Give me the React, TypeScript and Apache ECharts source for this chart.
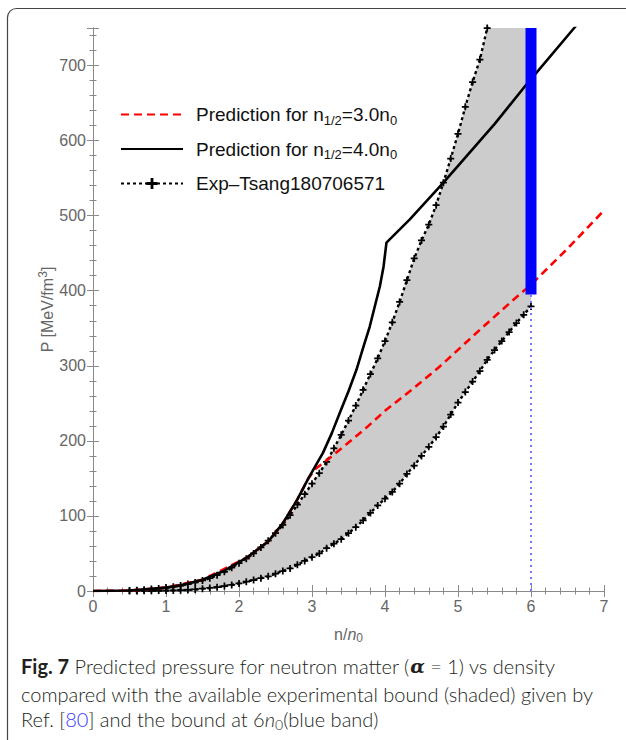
import React, { useEffect, useRef } from "react";
import * as echarts from "echarts";

// ---- data ----
const upperN = [0.5,0.6,0.7,0.8,0.9,1.0,1.1,1.2,1.3,1.4,1.5,1.6,1.7,1.8,1.9,2.0,2.1,2.2,2.3,2.4,2.5,2.6,2.7,2.8,2.9,3.0,3.1,3.2,3.3,3.4,3.5,3.6,3.7,3.8,3.9,4.0,4.1,4.2,4.3,4.4,4.5,4.6,4.7,4.8,4.9,5.0,5.1,5.2,5.3,5.4,5.5];
const upperP = [0.7,1.1,1.7,2.5,3.4,4.5,5.8,7.3,9.2,11.4,14,17,21,25.5,31,37,43,50,58,67,77,88,101,115,129,143,157,172,190,208,227,247,268,289,310,333,358,385,414,443,467,488,514,544,576,609,645,678,708,750,790];
const lowerN = [0.5,0.6,0.7,0.8,0.9,1.0,1.1,1.2,1.3,1.4,1.5,1.6,1.7,1.8,1.9,2.0,2.1,2.2,2.3,2.4,2.5,2.6,2.7,2.8,2.9,3.0,3.1,3.2,3.3,3.4,3.5,3.6,3.7,3.8,3.9,4.0,4.1,4.2,4.3,4.4,4.5,4.6,4.7,4.8,4.9,5.0,5.1,5.2,5.3,5.4,5.5,5.6,5.7,5.8,5.9,6.0];
const lowerP = [0,0.1,0.2,0.3,0.5,0.6,0.8,1.1,1.4,2,3,4,5,6.5,8,10,12.4,14.5,17,19.5,23,26.5,30,35,40,45,50,57,63,69,77,85,94,104,114,123,132,143,156,167,180,192,205,219,235,251,265,279,293,308,321,333,345,357,368,379];
const pred4N = [0,0.5,1.0,1.2,1.5,1.8,2.1,2.4,2.6,2.8,2.95,3.05,3.15,3.27,3.38,3.5,3.61,3.7,3.79,3.86,3.93,3.98,4.02,4.34,4.8,5.5,5.94,6.6,7.0];
const pred4P = [0,0.6,4.5,7.5,15,27,44,66,90,122,150,167,184,210,237,266,295,324,352,379,406,432,464,495,544,622,675,751,800];
const pred3N = [0,0.5,1.0,1.5,2.1,2.4,2.6,2.8,2.95,3.05,3.15,3.43,3.75,4.0,4.39,4.75,5.3,5.76,6.0,6.5,7.0];
const pred3P = [0,0.6,4.5,15,44,66,90,122,150,163,170,192,218,240,270,299,348,388,408,456,507];
const bandN = [6, 6];
const bandP = [395, 750];
const boundLineN = [6, 6];
const boundLineP = [0, 395];
const xTicks = [0, 1, 2, 3, 4, 5, 6, 7];
const yTicks = [0, 100, 200, 300, 400, 500, 600, 700];

const NAME3 = "Prediction for n1/2=3.0n0";
const NAME4 = "Prediction for n1/2=4.0n0";
const NAMEX = "Exp–Tsang180706571";

const zip = (a: number[], b: number[]) => a.map((v, i) => [v, b[i]]);

const PLUS = "path://M3,0H5V3H8V5H5V8H3V5H0V3H3Z";
const FONT = "'Liberation Sans', Arial, sans-serif";
const GRAY = "#666";
const AXIS = "#8a8a8a";

export default function App() {
  const ref = useRef<HTMLDivElement>(null);
  useEffect(() => {
    if (!ref.current) return;
    const chart = echarts.init(ref.current, null, { renderer: "svg" });
    const upper = zip(upperN, upperP);
    const lower = zip(lowerN, lowerP);
    const poly = [...upper, [6, upperP[upperP.length - 1]], ...lower.slice().reverse()];

    const tickCommon = {
      axisLine: { show: true, lineStyle: { color: AXIS, width: 1 } },
      axisTick: { show: true, inside: true, length: 6, lineStyle: { color: AXIS } },
      minorTick: { show: true, splitNumber: 5, length: 3.5, lineStyle: { color: AXIS } },
      splitLine: { show: false },
    };

    const legendRich: Record<string, string> = {
      [NAME3]: "{t|Prediction for n}{s|1/2}{t|=3.0n}{s|0}",
      [NAME4]: "{t|Prediction for n}{s|1/2}{t|=4.0n}{s|0}",
      [NAMEX]: "{t|" + NAMEX + "}",
    };

    chart.setOption({
      animation: false,
      backgroundColor: "#fff",
      grid: { left: 93, right: 22, top: 28, bottom: 149, show: false },
      legend: {
        data: [
          { name: NAME3, itemStyle: { opacity: 0 } },
          { name: NAME4, itemStyle: { opacity: 0 } },
          { name: NAMEX },
        ],
        orient: "vertical",
        left: 115,
        top: 100,
        itemWidth: 62,
        itemHeight: 14,
        itemGap: 13,
        selectedMode: false,
        formatter: (name: string) => legendRich[name] || name,
        textStyle: {
          fontFamily: FONT,
          fontSize: 19,
          color: "#111",
          padding: [0, 0, 0, 8],
          rich: {
            t: { fontFamily: FONT, fontSize: 19, color: "#111", lineHeight: 24, verticalAlign: "middle" },
            s: { fontFamily: FONT, fontSize: 13, color: "#111", lineHeight: 13, verticalAlign: "bottom" },
          },
        },
      },
      xAxis: [
        {
          type: "value", min: xTicks[0], max: xTicks[xTicks.length - 1], interval: 1,
          position: "bottom",
          name: "{a|n/}{i|n}{s|0}",
          nameLocation: "middle",
          nameGap: 33,
          nameTextStyle: {
            rich: {
              a: { fontFamily: FONT, fontSize: 16, color: GRAY, lineHeight: 20, verticalAlign: "middle" },
              i: { fontFamily: FONT, fontSize: 16, color: GRAY, fontStyle: "italic", lineHeight: 20, verticalAlign: "middle" },
              s: { fontFamily: FONT, fontSize: 12, color: GRAY, lineHeight: 12, verticalAlign: "bottom" },
            },
          },
          axisLabel: { color: GRAY, fontFamily: FONT, fontSize: 16, margin: 7 },
          ...tickCommon,
        },
        {
          type: "value", min: xTicks[0], max: xTicks[xTicks.length - 1], interval: 1,
          position: "top",
          axisLabel: { show: false },
          ...tickCommon,
        },
      ],
      yAxis: [
        {
          type: "value", min: yTicks[0], max: 750, interval: 100,
          position: "left",
          name: "{a|P [MeV/fm}{p|3}{a|]}",
          nameLocation: "middle",
          nameGap: 36,
          nameMoveOverlap: false,
          nameRotate: 90,
          nameTextStyle: {
            rich: {
              a: { fontFamily: FONT, fontSize: 16, color: GRAY, lineHeight: 20, verticalAlign: "middle" },
              p: { fontFamily: FONT, fontSize: 12, color: GRAY, lineHeight: 12, verticalAlign: "top" },
            },
          },
          axisLabel: { color: GRAY, fontFamily: FONT, fontSize: 16, margin: 7, showMaxLabel: false },
          ...tickCommon,
        },
        {
          type: "value", min: yTicks[0], max: 750, interval: 100,
          position: "right",
          axisLabel: { show: false },
          ...tickCommon,
        },
      ],
      series: [
        {
          type: "custom",
          name: "bound",
          clip: true,
          silent: true,
          z: 1,
          data: [[0, 0]],
          renderItem: (_p: any, api: any) => ({
            type: "polygon",
            shape: { points: poly.map((pt) => api.coord(pt)) },
            style: { fill: "#cccccc", stroke: "none" },
          }),
        },
        {
          type: "line", name: NAMEX, data: upper, z: 3,
          symbol: PLUS, symbolSize: 7, showSymbol: true,
          itemStyle: { color: "#000" },
          lineStyle: { color: "#000", width: 2.4, type: [3, 3] },
        },
        {
          type: "line", name: NAMEX, data: lower, z: 3,
          symbol: PLUS, symbolSize: 7, showSymbol: true,
          itemStyle: { color: "#000" },
          lineStyle: { color: "#000", width: 2.4, type: [3, 3] },
        },
        {
          type: "line", name: NAME3, data: zip(pred3N, pred3P), z: 4,
          symbol: "none",
          itemStyle: { color: "#ff0000" },
          lineStyle: { color: "#ff0000", width: 2.6, type: [8, 5] },
        },
        {
          type: "line", name: NAME4, data: zip(pred4N, pred4P), z: 5,
          symbol: "none",
          itemStyle: { color: "#000" },
          lineStyle: { color: "#000", width: 2.6 },
        },
        {
          type: "line", name: "6n0 line", data: zip(boundLineN, boundLineP), z: 6,
          symbol: "none",
          lineStyle: { color: "#7777ff", width: 2, type: [2, 4] },
        },
        {
          type: "line", name: "6n0 band", data: zip(bandN, bandP), z: 7,
          symbol: "none",
          lineStyle: { color: "#0000ff", width: 11, cap: "butt" },
        },
      ],
      graphic: [
        {
          type: "rect",
          silent: true,
          shape: { x: 7.5, y: 8.5, width: 900, height: 900, r: 9 },
          style: { fill: "none", stroke: "#444", lineWidth: 1.2 },
        },
        {
          type: "text",
          left: 21,
          top: 656,
          style: {
            text: "{b|Fig. 7} Predicted pressure for neutron matter ({m|α} = 1) vs density",
            font: "300 20px Lato, sans-serif",
            fill: "#231f20",
            rich: {
              b: { fontFamily: "Lato, sans-serif", fontSize: 20, fontWeight: "bold", fill: "#231f20" },
              m: { fontFamily: "'DejaVu Serif', serif", fontSize: 19, fontStyle: "italic", fontWeight: "bold", fill: "#231f20" },
            },
          },
        },
        {
          type: "text",
          left: 21,
          top: 684,
          style: {
            text: "compared with the available experimental bound (shaded) given by",
            font: "300 20px Lato, sans-serif",
            fill: "#231f20",
          },
        },
        {
          type: "text",
          left: 21,
          top: 709,
          style: {
            text: "Ref. [{u|80}] and the bound at 6{i|n}{s|0}(blue band)",
            font: "300 20px Lato, sans-serif",
            fill: "#231f20",
            rich: {
              u: { fontFamily: "Lato, sans-serif", fontWeight: 300, fontSize: 20, fill: "#3a3aff", lineHeight: 24, verticalAlign: "middle" },
              i: { fontFamily: "Lato, sans-serif", fontWeight: 300, fontSize: 20, fontStyle: "italic", fill: "#231f20", lineHeight: 24, verticalAlign: "middle" },
              s: { fontFamily: "Lato, sans-serif", fontWeight: 300, fontSize: 14, fill: "#231f20", lineHeight: 14, verticalAlign: "bottom" },
            },
          },
        },
      ],
    });
    return () => chart.dispose();
  }, []);
  return (
    <div
      ref={ref}
      style={{ position: "absolute", left: 0, top: 0, width: 626, height: 740 }}
    />
  );
}
